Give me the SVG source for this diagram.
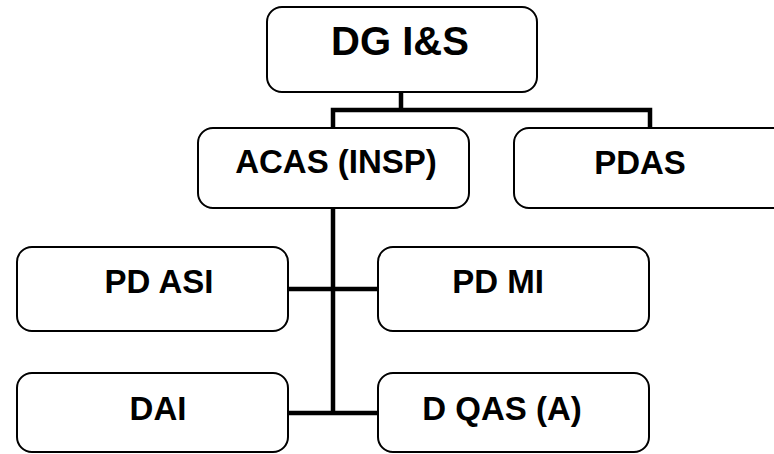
<svg xmlns="http://www.w3.org/2000/svg" width="774" height="454" viewBox="0 0 774 454">
<style>
.box{fill:#fff;stroke:#000;stroke-width:2}
.lbl{font-family:"Liberation Sans",Arial,sans-serif;font-weight:bold;font-size:33px;fill:#000;text-anchor:middle}
.big{font-size:40px}
.con{fill:none;stroke:#000;stroke-width:4.5;stroke-linecap:square}
</style>
<rect width="774" height="454" fill="#fff"/>
<g id="connectors">
<path class="con" d="M401 92V110M333 110H650M333 110V128M650 110V128"/>
<path class="con" d="M333 208V413M288 289H378M288 413H378"/>
</g>
<g id="dg"><rect class="box" x="267" y="7" width="270" height="85" rx="15"/><text class="lbl big" x="400" y="55">DG I&amp;S</text></g>
<g id="acas"><rect class="box" x="198" y="128" width="271" height="80" rx="15"/><text class="lbl" x="336" y="173">ACAS (INSP)</text></g>
<g id="pdas"><rect class="box" x="514" y="128" width="280" height="80" rx="15"/><text class="lbl" x="640" y="174">PDAS</text></g>
<g id="pdasi"><rect class="box" x="17" y="247" width="271" height="84" rx="15"/><text class="lbl" x="159" y="293">PD ASI</text></g>
<g id="pdmi"><rect class="box" x="378" y="247" width="271" height="84" rx="15"/><text class="lbl" x="498" y="293">PD MI</text></g>
<g id="dai"><rect class="box" x="17" y="373" width="271" height="79" rx="15"/><text class="lbl" x="158" y="420">DAI</text></g>
<g id="dqas"><rect class="box" x="378" y="373" width="271" height="79" rx="15"/><text class="lbl" x="502" y="420">D QAS (A)</text></g>
</svg>
